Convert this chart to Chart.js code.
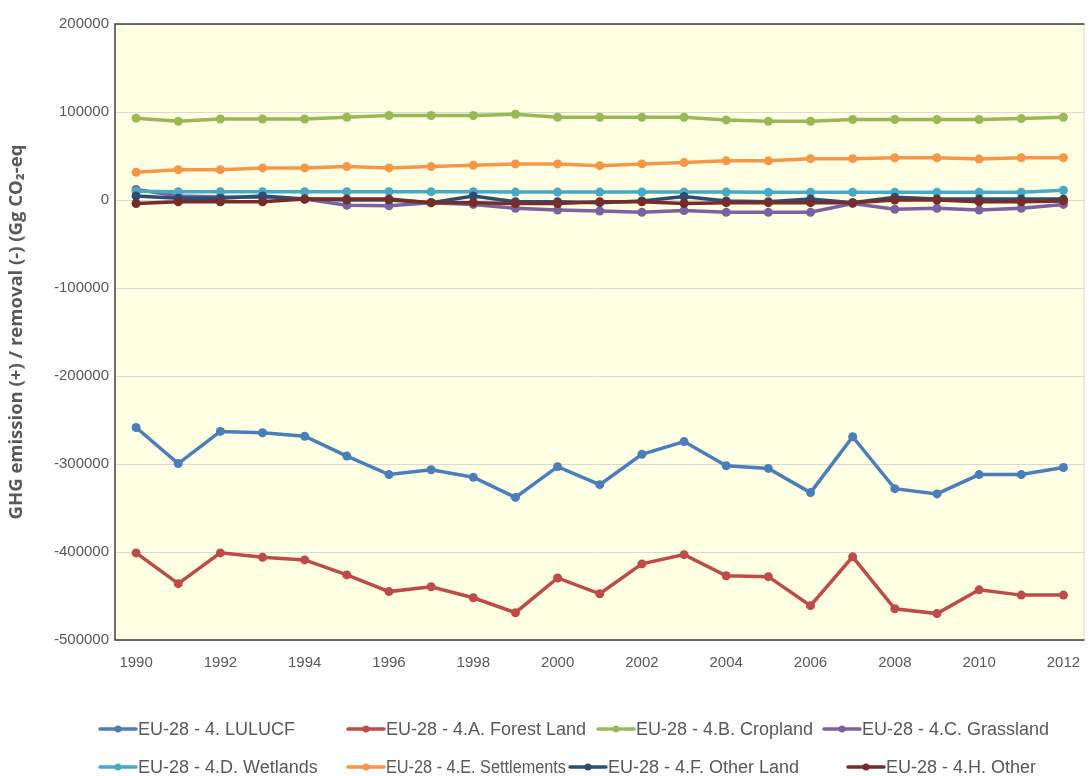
<!DOCTYPE html>
<html>
<head>
<meta charset="utf-8">
<script src="https://cdn.jsdelivr.net/npm/chart.js@4.4.0/dist/chart.umd.min.js"></script>
<style>
  html, body { margin: 0; padding: 0; background: #ffffff; }
  #wrap { position: relative; width: 1089px; height: 776px; }
</style>
</head>
<body>
<div id="wrap"><canvas id="grafico"></canvas></div>
<script>
// Años (categorías)
const anios = ['1990','1991','1992','1993','1994','1995','1996','1997','1998','1999','2000',
               '2001','2002','2003','2004','2005','2006','2007','2008','2009','2010','2011','2012'];

// Series (Gg CO2-eq)
const lulucf = [-258500,-299500,-263000,-264500,-268500,-291000,-312000,-306500,-315000,-338000,-303000,
                -323500,-289000,-274500,-302000,-305000,-332500,-269000,-328000,-334000,-312000,-312000,-304000];
const forestLand = [-401000,-436000,-401000,-406000,-409000,-426000,-445000,-439500,-452000,-469000,-429500,
                    -447500,-413500,-403000,-427000,-428000,-461000,-405500,-464500,-470000,-443000,-449000,-449000];
const cropland = [93000,89500,92000,92000,92000,94000,96000,96000,96000,97500,94000,
                  94000,94000,94000,91000,89500,89500,91500,91500,91500,91500,92500,94000];
const grassland = [12000,4500,3500,3000,1000,-6000,-6500,-3000,-5000,-9500,-11500,
                   -12500,-14000,-12000,-14000,-14000,-14000,-4000,-10500,-9500,-11500,-9500,-5000];
const wetlands = [10000,9500,9500,9500,9500,9500,9500,9500,9500,9000,9000,
                  9000,9000,9000,9000,8700,8700,8700,8700,8700,8700,8700,11000];
const settlements = [31500,34500,34500,36500,36500,38000,36500,38000,39500,41000,41000,
                     39000,41000,42500,44500,44500,47000,47000,48000,48000,46500,48000,48000];
const otherLand = [4500,2000,2000,4500,1000,0,0,-3000,4500,-2000,-2000,
                   -3000,-1000,4000,-1000,-2000,1000,-3000,3000,1000,1000,1000,1000];
const other = [-4000,-2000,-2000,-2000,1000,1000,1000,-3000,-3000,-4000,-4000,
               -2000,-2000,-4000,-3000,-3000,-3000,-3000,0,0,-2000,-2000,-1000];

// Etiquetas y colores de las series
const nombres = ['EU-28 - 4. LULUCF','EU-28 - 4.A. Forest Land','EU-28 - 4.B. Cropland','EU-28 - 4.C. Grassland',
                 'EU-28 - 4.D. Wetlands','EU-28 - 4.E. Settlements','EU-28 - 4.F. Other Land','EU-28 - 4.H. Other'];
const series = [lulucf, forestLand, cropland, grassland, wetlands, settlements, otherLand, other];
const colores = ['#4a7ebb','#be4b48','#98b954','#7d60a0','#46aac5','#f79646','#2c4d75','#772c2a'];

// Ejes
const yMin = -500000, yMax = 200000, yPaso = 100000;
const tituloY = 'GHG emission (+) / removal (-) (Gg CO\u2082-eq';

const gris = '#595959';
const fuente = "'Liberation Sans', Arial, sans-serif";

// Posición de la leyenda (dos filas de cuatro)
const leyendaX = [[100, 348, 598, 824], [100, 348, 570, 848]];
const leyendaY = [729, 767];

// Fondo amarillo y borde del área de dibujo
const fondoPlugin = {
    id: 'fondo',
    beforeDraw(chart) {
        const { ctx, chartArea: a } = chart;
        ctx.save();
        ctx.fillStyle = '#ffffe3';
        ctx.fillRect(a.left, a.top, a.right - a.left, a.bottom - a.top);
        ctx.restore();
    },
    afterDraw(chart) {
        const { ctx, chartArea: a } = chart;
        ctx.save();
        ctx.lineWidth = 1;
        ctx.strokeStyle = '#d9d9d9';
        ctx.beginPath();
        ctx.moveTo(a.right - 0.5, a.top);
        ctx.lineTo(a.right - 0.5, a.bottom);
        ctx.stroke();
        ctx.strokeStyle = '#404040';
        ctx.lineWidth = 1.5;
        ctx.beginPath();
        ctx.moveTo(a.right, a.top);
        ctx.lineTo(a.left, a.top);
        ctx.lineTo(a.left, a.bottom);
        ctx.lineTo(a.right, a.bottom);
        ctx.stroke();
        ctx.restore();
    }
};

// Leyenda dibujada a mano, estilo Excel
const leyendaPlugin = {
    id: 'leyendaExcel',
    afterDraw(chart) {
        const ctx = chart.ctx;
        ctx.save();
        ctx.font = '18px ' + fuente;
        ctx.textBaseline = 'middle';
        chart.data.datasets.forEach((ds, i) => {
            const fila = Math.floor(i / 4), col = i % 4;
            const x = leyendaX[fila][col], y = leyendaY[fila];
            const siguiente = col < 3 ? leyendaX[fila][col + 1] : chart.width;
            ctx.strokeStyle = ds.borderColor;
            ctx.lineWidth = 3.5;
            ctx.lineCap = 'round';
            ctx.beginPath();
            ctx.moveTo(x, y);
            ctx.lineTo(x + 36, y);
            ctx.stroke();
            ctx.fillStyle = ds.borderColor;
            ctx.beginPath();
            ctx.arc(x + 18, y, 3.5, 0, Math.PI * 2);
            ctx.fill();
            ctx.fillStyle = gris;
            // se comprime el texto si no cabe antes del siguiente elemento
            ctx.fillText(ds.label, x + 38, y + 1, siguiente - x - 42);
        });
        ctx.restore();
    }
};

const canvas = document.getElementById('grafico');
canvas.width = 1089;
canvas.height = 776;

new Chart(canvas.getContext('2d'), {
    type: 'line',
    data: {
        labels: anios,
        datasets: series.map((valores, i) => ({
            label: nombres[i],
            data: valores,
            borderColor: colores[i],
            backgroundColor: colores[i],
            borderWidth: 3.5,
            pointRadius: 4.5,
            pointBorderWidth: 0,
            pointHoverRadius: 4.5,
            tension: 0,
            order: series.length - i  // la última serie queda encima, como en Excel
        }))
    },
    options: {
        responsive: false,
        animation: false,
        devicePixelRatio: 1,
        layout: { padding: { top: 24, right: 1, left: 0, bottom: 91 } },
        plugins: {
            legend: { display: false },
            tooltip: { enabled: false }
        },
        scales: {
            x: {
                offset: true,
                grid: { display: false, drawTicks: false },
                border: { display: false },
                afterFit: (s) => { s.height = 45; s.paddingRight = 0; s.paddingLeft = 0; },
                ticks: {
                    autoSkip: false,
                    maxRotation: 0,
                    padding: 14,
                    color: gris,
                    font: { family: fuente, size: 15 },
                    callback: function (v, i) { return i % 2 === 0 ? this.getLabelForValue(v) : ''; }
                }
            },
            y: {
                min: yMin,
                max: yMax,
                afterFit: (s) => { s.width = 115; },
                grid: { color: '#d9d9d9', lineWidth: 1, drawTicks: false },
                border: { display: false },
                ticks: {
                    stepSize: yPaso,
                    padding: 6,
                    color: gris,
                    font: { family: fuente, size: 15 },
                    callback: (v) => String(v)
                },
                title: {
                    display: true,
                    text: tituloY,
                    color: gris,
                    font: { family: "'Open Sans', sans-serif", size: 18.5, weight: 'bold' },
                    padding: { top: 6, bottom: 0 }
                }
            }
        }
    },
    plugins: [fondoPlugin, leyendaPlugin]
});
</script>
</body>
</html>
